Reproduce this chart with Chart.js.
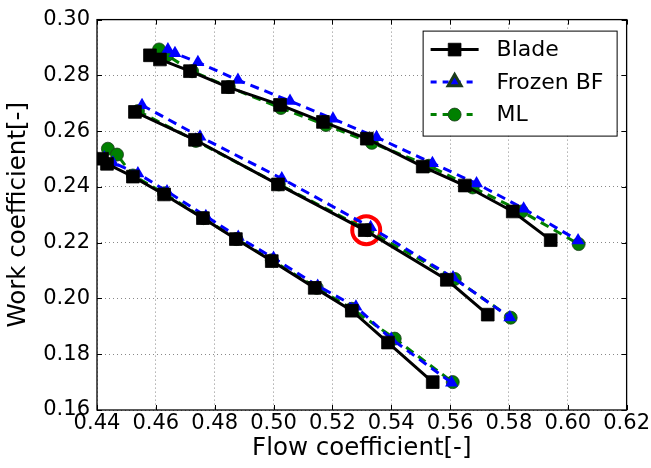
<!DOCTYPE html>
<html>
<head>
<meta charset="utf-8">
<script src="https://cdn.jsdelivr.net/npm/chart.js@4/dist/chart.umd.min.js"></script>
<style>
    html, body { margin: 0; padding: 0; background: #fff; }
    #wrap { width: 651px; height: 468px; }
</style>
</head>
<body>
<div id="wrap"><canvas id="c" width="651" height="468"></canvas></div>
<script>
// tick labels
var xTicks = [ 0.44, 0.46, 0.48, 0.50, 0.52, 0.54, 0.56, 0.58, 0.60, 0.62 ];
var yTicks = [ 0.16, 0.18, 0.20, 0.22, 0.24, 0.26, 0.28, 0.30 ];

var modelNames = [ 'Blade', 'Frozen BF', 'ML' ];

// Blade
var bladeFlowUpper = [ 0.458, 0.4614, 0.4716, 0.4845, 0.5022, 0.5168, 0.5317, 0.5507, 0.565, 0.5813, 0.5942 ];
var bladeWorkUpper = [ 0.2872, 0.2857, 0.2815, 0.2758, 0.2694, 0.2633, 0.2573, 0.2473, 0.2405, 0.2312, 0.2209 ];
var bladeFlowMiddle = [ 0.4529, 0.4733, 0.5015, 0.531, 0.5589, 0.5728 ];
var bladeWorkMiddle = [ 0.2669, 0.2569, 0.2409, 0.2245, 0.2067, 0.1942 ];
var bladeFlowLower = [ 0.4417, 0.4434, 0.4522, 0.4628, 0.476, 0.4872, 0.4994, 0.514, 0.5266, 0.5389, 0.5541 ];
var bladeWorkLower = [ 0.2501, 0.2483, 0.2437, 0.2373, 0.2288, 0.2213, 0.2134, 0.2038, 0.1956, 0.1842, 0.170 ];

// Frozen BF
var frozenFlowUpper = [ 0.4641, 0.4665, 0.4743, 0.4879, 0.5056, 0.5202, 0.535, 0.554, 0.569, 0.585, 0.6035 ];
var frozenWorkUpper = [ 0.2893, 0.2879, 0.2847, 0.2783, 0.2708, 0.2644, 0.2578, 0.2485, 0.2412, 0.2322, 0.2208 ];
var frozenFlowMiddle = [ 0.4553, 0.475, 0.5028, 0.533, 0.561, 0.5803 ];
var frozenWorkMiddle = [ 0.2693, 0.258, 0.243, 0.2255, 0.2075, 0.1932 ];
var frozenFlowLower = [ 0.4425, 0.4454, 0.4539, 0.4638, 0.477, 0.488, 0.5, 0.515, 0.528, 0.540, 0.5605 ];
var frozenWorkLower = [ 0.2505, 0.2487, 0.2448, 0.2384, 0.2295, 0.222, 0.2145, 0.2045, 0.197, 0.1855, 0.1698 ];

// ML
var mlFlowUpper = [ 0.4611, 0.4638, 0.4723, 0.4848, 0.5025, 0.5178, 0.5334, 0.5528, 0.5677, 0.5844, 0.6037 ];
var mlWorkUpper = [ 0.2893, 0.2872, 0.2815, 0.2758, 0.2683, 0.2622, 0.2558, 0.2476, 0.2398, 0.2312, 0.2195 ];
var mlFlowMiddle = [ 0.4539, 0.4736, 0.5018, 0.532, 0.5616, 0.5806 ];
var mlWorkMiddle = [ 0.2672, 0.2565, 0.2409, 0.2245, 0.207, 0.1931 ];
var mlFlowLower = [ 0.4437, 0.4468, 0.4522, 0.4628, 0.4762, 0.4874, 0.4994, 0.5147, 0.5266, 0.5412, 0.5609 ];
var mlWorkLower = [ 0.2537, 0.2516, 0.2441, 0.2377, 0.2288, 0.2213, 0.2137, 0.2038, 0.1963, 0.1856, 0.170 ];

// highlighted point
var markFlow = [ 0.5315 ];
var markWork = [ 0.2245 ];

var FONT = 'DejaVu Sans';

var pts = function ( xs, ys ) {
    return xs.map( function ( x, i ) {
        return { x: x, y: ys[ i ] };
    } );
};

var styles = {
    'Blade': { color: '#000000', fill: '#000000', dash: [], point: 'rect', radius: 9 },
    'Frozen BF': { color: '#0000ff', fill: '#0000ff', dash: [ 9, 6 ], point: 'triangle', radius: 7.5 },
    'ML': { color: '#007f00', fill: '#008000', dash: [ 9, 6 ], point: 'circle', radius: 6.5 }
};

var makeSet = function ( name, xs, ys ) {
    var s = styles[ name ];
    return {
        label: name,
        data: pts( xs, ys ),
        showLine: true,
        borderColor: s.color,
        borderWidth: 3,
        borderDash: s.dash,
        pointStyle: s.point,
        pointRadius: s.radius,
        pointBackgroundColor: s.fill,
        pointBorderColor: name === 'Blade' ? '#000' : '#1a3a1a',
        pointBorderWidth: name === 'Frozen BF' ? 0 : 0.8,
        fill: false
    };
};

var datasets = [
    makeSet( 'Blade', bladeFlowUpper, bladeWorkUpper ),
    makeSet( 'Blade', bladeFlowMiddle, bladeWorkMiddle ),
    makeSet( 'Blade', bladeFlowLower, bladeWorkLower ),
    makeSet( 'Frozen BF', frozenFlowUpper, frozenWorkUpper ),
    makeSet( 'Frozen BF', frozenFlowMiddle, frozenWorkMiddle ),
    makeSet( 'Frozen BF', frozenFlowLower, frozenWorkLower ),
    makeSet( 'ML', mlFlowUpper, mlWorkUpper ),
    makeSet( 'ML', mlFlowMiddle, mlWorkMiddle ),
    makeSet( 'ML', mlFlowLower, mlWorkLower ),
    {
        label: 'mark',
        data: pts( markFlow, markWork ),
        showLine: false,
        pointStyle: 'circle',
        pointRadius: 14,
        pointBackgroundColor: 'rgba(0,0,0,0)',
        pointBorderColor: '#ff0000',
        pointBorderWidth: 4
    }
];

// frame + inward ticks (matplotlib classic look)
var framePlugin = {
    id: 'frame',
    afterDraw: function ( chart ) {
        var ctx = chart.ctx;
        var a = chart.chartArea;
        var xs = chart.scales.x;
        var ys = chart.scales.y;
        ctx.save();
        ctx.strokeStyle = '#000';
        ctx.lineWidth = 1;
        ctx.setLineDash( [] );
        ctx.beginPath();
        xs.ticks.forEach( function ( t, i ) {
            var px = Math.round( xs.getPixelForTick( i ) ) + 0.5;
            ctx.moveTo( px, a.bottom ); ctx.lineTo( px, a.bottom - 5 );
            ctx.moveTo( px, a.top ); ctx.lineTo( px, a.top + 5 );
        } );
        ys.ticks.forEach( function ( t, i ) {
            var py = Math.round( ys.getPixelForTick( i ) ) + 0.5;
            ctx.moveTo( a.left, py ); ctx.lineTo( a.left + 5, py );
            ctx.moveTo( a.right, py ); ctx.lineTo( a.right - 5, py );
        } );
        ctx.stroke();
        ctx.lineWidth = 1.3;
        ctx.strokeRect( a.left, a.top, a.right - a.left, a.bottom - a.top );
        ctx.restore();
    }
};

// legend box in the upper right corner of the axes
var legendPlugin = {
    id: 'boxLegend',
    afterDraw: function ( chart ) {
        var ctx = chart.ctx;
        var a = chart.chartArea;
        var boxW = 194, boxH = 105;
        var bx = a.right - 10 - boxW;
        var by = a.top + 11;
        ctx.save();
        ctx.fillStyle = '#fff';
        ctx.fillRect( bx, by, boxW, boxH );
        ctx.strokeStyle = '#000';
        ctx.lineWidth = 1;
        ctx.strokeRect( bx + 0.5, by + 0.5, boxW, boxH );
        ctx.font = '22px "' + FONT + '"';
        ctx.textBaseline = 'middle';
        modelNames.forEach( function ( name, i ) {
            var s = styles[ name ];
            var cy = by + 19 + i * 32.5;
            ctx.strokeStyle = s.color;
            ctx.lineWidth = 3;
            ctx.setLineDash( s.dash.length ? [ 6, 6 ] : [] );
            ctx.beginPath();
            ctx.moveTo( bx + 8, cy );
            ctx.lineTo( bx + 56, cy );
            ctx.stroke();
            ctx.setLineDash( [] );
            ctx.fillStyle = s.fill;
            ctx.strokeStyle = name === 'Blade' ? '#000' : '#1a3a1a';
            ctx.lineWidth = name === 'Frozen BF' ? 0 : 0.8;
            Chart.helpers.drawPoint( ctx, { pointStyle: s.point, radius: s.radius, borderWidth: ctx.lineWidth, rotation: 0 }, bx + 32, cy );
            ctx.fillStyle = '#000';
            ctx.fillText( name, bx + 74, cy + 1 );
        } );
        ctx.restore();
    }
};

new Chart( document.getElementById( 'c' ), {
    type: 'scatter',
    data: { datasets: datasets },
    options: {
        responsive: false,
        animation: false,
        layout: { padding: { left: 0, top: 17, right: 24, bottom: 0 } },
        plugins: {
            legend: { display: false },
            tooltip: { enabled: false }
        },
        scales: {
            x: {
                type: 'linear',
                min: xTicks[ 0 ],
                max: xTicks[ xTicks.length - 1 ],
                afterBuildTicks: function ( scale ) {
                    scale.ticks = xTicks.map( function ( v ) { return { value: v }; } );
                },
                afterFit: function ( scale ) { scale.height = 58; },
                ticks: {
                    color: '#000',
                    padding: 1,
                    maxRotation: 0,
                    font: { family: FONT, size: 21 },
                    callback: function ( v ) { return v.toFixed( 2 ); }
                },
                grid: { color: '#888', lineWidth: 1, drawTicks: false },
                border: { display: false, dash: [ 1, 3 ] },
                title: {
                    display: true,
                    text: 'Flow coefficient[-]',
                    color: '#000',
                    font: { family: FONT, size: 24.5 },
                    padding: { top: 0, bottom: 5 }
                }
            },
            y: {
                type: 'linear',
                min: yTicks[ 0 ],
                max: yTicks[ yTicks.length - 1 ],
                afterBuildTicks: function ( scale ) {
                    scale.ticks = yTicks.map( function ( v ) { return { value: v }; } );
                },
                afterFit: function ( scale ) { scale.width = 97; },
                ticks: {
                    color: '#000',
                    padding: 7,
                    font: { family: FONT, size: 21 },
                    callback: function ( v ) { return v.toFixed( 2 ); }
                },
                grid: { color: '#888', lineWidth: 1, drawTicks: false },
                border: { display: false, dash: [ 1, 3 ] },
                title: {
                    display: true,
                    text: 'Work coefficient[-]',
                    color: '#000',
                    font: { family: FONT, size: 24.5 },
                    padding: { top: 4, bottom: 0 }
                }
            }
        }
    },
    plugins: [ framePlugin, legendPlugin ]
} );
</script>
</body>
</html>
